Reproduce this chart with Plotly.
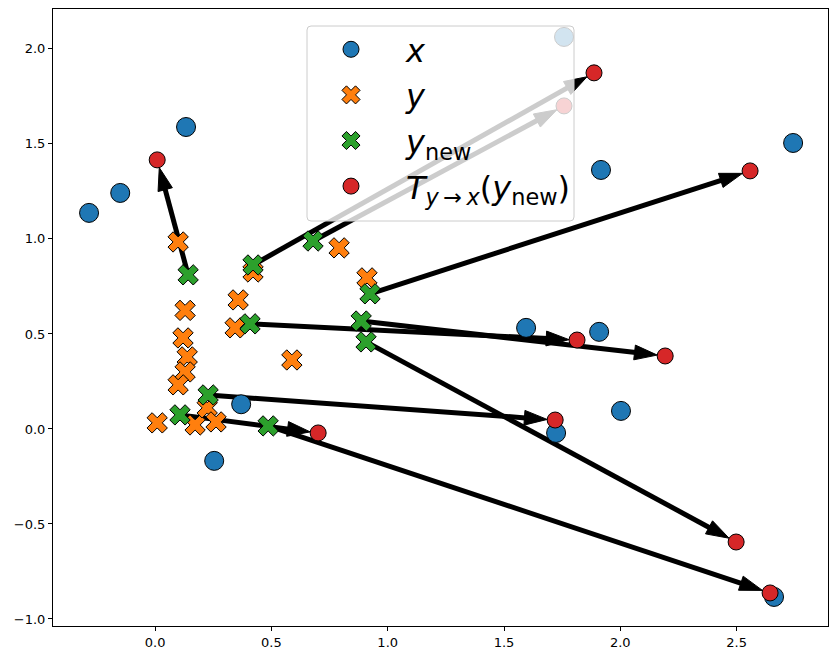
import plotly.graph_objects as go

# x (blue) samples
x_px = [-0.284, -0.150, 0.133, 1.758, 2.743, 1.917, 1.595, 1.909, 2.003, 1.724, 0.370, 0.254, 2.661]
x_py = [1.137, 1.242, 1.589, 2.063, 1.505, 1.363, 0.532, 0.511, 0.095, -0.021, 0.130, -0.168, -0.884]

# y (orange) samples
y_px = [0.099, 0.129, 0.120, 0.138, 0.129, 0.099, 0.009, 0.172, 0.224, 0.262, 0.357, 0.344, 0.421, 0.791, 0.911, 0.588]
y_py = [0.984, 0.624, 0.479, 0.379, 0.300, 0.232, 0.032, 0.021, 0.111, 0.037, 0.679, 0.532, 0.826, 0.953, 0.795, 0.363]

# y_new (green) samples
ynew_x = [0.142, 0.421, 0.679, 0.924, 0.408, 0.886, 0.907, 0.228, 0.107, 0.486]
ynew_y = [0.811, 0.863, 0.989, 0.711, 0.553, 0.568, 0.458, 0.179, 0.074, 0.016]

# transported T(y_new) (red), paired with y_new
t_x = [0.009, 1.887, 1.758, 2.558, 1.814, 2.193, 2.498, 1.720, 0.701, 2.644]
t_y = [1.416, 1.874, 1.700, 1.358, 0.468, 0.384, -0.595, 0.047, -0.021, -0.863]

x_ticks = [0.0, 0.5, 1.0, 1.5, 2.0, 2.5]
y_ticks = [-1.0, -0.5, 0.0, 0.5, 1.0, 1.5, 2.0]

fig = go.Figure()

# arrows y_new -> T(y_new)
for gx, gy, rx, ry in zip(ynew_x, ynew_y, t_x, t_y):
    fig.add_trace(go.Scatter(
        x=[gx, rx], y=[gy, ry], mode="lines+markers",
        line=dict(color="black", width=5),
        marker=dict(symbol="arrow", size=[0, 24], color="black", opacity=1,
                    angleref="previous", standoff=8, line=dict(width=1, color="black")),
        showlegend=False, hoverinfo="skip"))

fig.add_trace(go.Scatter(
    x=x_px, y=x_py, mode="markers", name="<i>x</i>", legendgroup="a",
    marker=dict(symbol="circle", size=19, color="#1f77b4", line=dict(color="black", width=1))))
fig.add_trace(go.Scatter(
    x=y_px, y=y_py, mode="markers", name="<i>y</i>", legendgroup="b",
    marker=dict(symbol="x", size=18, color="#ff7f0e", line=dict(color="black", width=1))))
fig.add_trace(go.Scatter(
    x=ynew_x, y=ynew_y, mode="markers", name="<i>y</i><sub>new</sub>", legendgroup="c",
    marker=dict(symbol="x", size=18, color="#2ca02c", line=dict(color="black", width=1))))
fig.add_trace(go.Scatter(
    x=t_x, y=t_y, mode="markers",
    name="<i>T</i><sub><i>y</i>\u2009\u2192\u2009<i>x</i></sub>(<i>y</i><sub>new</sub>)", legendgroup="d",
    marker=dict(symbol="circle", size=16, color="#d62728", line=dict(color="black", width=1))))

# legend frame (semi-transparent, above traces)
L, R, T, B = 53, 828, 9, 626
W, H = R - L, B - T
bx0, bx1, by0, by1 = 307, 574, 26, 221
def px(v):
    return (v - L) / W
def py(v):
    return 1 - (v - T) / H
r = 4
path = (f"M{px(bx0+r)},{py(by0)} L{px(bx1-r)},{py(by0)} Q{px(bx1)},{py(by0)} {px(bx1)},{py(by0+r)} "
        f"L{px(bx1)},{py(by1-r)} Q{px(bx1)},{py(by1)} {px(bx1-r)},{py(by1)} "
        f"L{px(bx0+r)},{py(by1)} Q{px(bx0)},{py(by1)} {px(bx0)},{py(by1-r)} "
        f"L{px(bx0)},{py(by0+r)} Q{px(bx0)},{py(by0)} {px(bx0+r)},{py(by0)} Z")
fig.add_shape(type="path", path=path, xref="paper", yref="paper", layer="above",
              fillcolor="rgba(255,255,255,0.8)", line=dict(color="rgb(204,204,204)", width=1))

axis_common = dict(showline=True, mirror=True, linecolor="black", linewidth=1,
                   ticks="outside", ticklen=4, tickwidth=1, tickcolor="black",
                   showgrid=False, zeroline=False,
                   tickfont=dict(family="DejaVu Sans", size=13, color="black"))

fig.update_layout(
    width=838, height=659,
    margin=dict(l=L, r=838 - R, t=T, b=659 - B),
    plot_bgcolor="white", paper_bgcolor="white",
    xaxis=dict(range=[-0.439, 2.893], tickvals=x_ticks, ticktext=[f"{v:.1f}" for v in x_ticks], **axis_common),
    yaxis=dict(range=[-1.037, 2.21], tickvals=y_ticks,
               ticktext=[f"{v:.1f}".replace("-", "\u2212") for v in y_ticks], **axis_common),
    showlegend=True,
    legend=dict(x=px(296), y=py(22), xanchor="left", yanchor="top",
                bgcolor="rgba(0,0,0,0)", borderwidth=0,
                font=dict(family="DejaVu Sans", size=32, color="black"),
                itemwidth=100, traceorder="grouped", tracegroupgap=1),
)

fig.write_html("out.html")
